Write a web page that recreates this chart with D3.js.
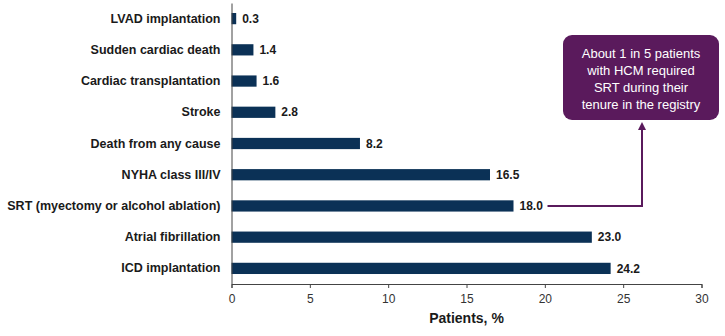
<!DOCTYPE html>
<html>
<head>
<meta charset="utf-8">
<script src="https://cdn.jsdelivr.net/npm/d3@7"></script>
<style>
  body { margin: 0; background: #fff; }
  svg { font-family: Arial, "Liberation Sans", sans-serif; }
</style>
</head>
<body>
<div id="chart"></div>
<script>
// data
const categories = [
  "LVAD implantation",
  "Sudden cardiac death",
  "Cardiac transplantation",
  "Stroke",
  "Death from any cause",
  "NYHA class III/IV",
  "SRT (myectomy or alcohol ablation)",
  "Atrial fibrillation",
  "ICD implantation",
];
const values = [0.3, 1.4, 1.6, 2.8, 8.2, 16.5, 18.0, 23.0, 24.2];
const xTicks = [0, 5, 10, 15, 20, 25, 30];
const noteLines = ["About 1 in 5 patients", "with HCM required", "SRT during their", "tenure in the registry"];

var w = 725;
var h = 336;
var barColor = "#0b3156";
var purple = "#5a1a5c";

const svg = d3.select("#chart").append("svg").attr("width", w).attr("height", h);

// scales
const x = d3.scaleLinear().domain([0, 30]).range([231.5, 701.5]);
const y = d3.scaleBand().domain(categories).range([3, 284]).paddingInner(0.64).paddingOuter(0.32);

// bars
svg.selectAll("rect.bar")
  .data(values)
  .enter()
  .append("rect")
  .attr("class", "bar")
  .attr("x", x(0))
  .attr("y", (d, i) => y(categories[i]))
  .attr("width", (d) => x(d) - x(0))
  .attr("height", y.bandwidth())
  .attr("fill", barColor);

// value labels
svg.selectAll("text.val")
  .data(values)
  .enter()
  .append("text")
  .attr("class", "val")
  .attr("x", (d) => x(d) + 6)
  .attr("y", (d, i) => y(categories[i]) + y.bandwidth() / 2)
  .attr("dy", "0.35em")
  .attr("font-size", 12)
  .attr("font-weight", "bold")
  .attr("fill", "#1a1a1a")
  .text((d) => d.toFixed(1));

// y axis
const yAxis = svg.append("g")
  .attr("transform", `translate(${x(0)},0)`)
  .call(d3.axisLeft(y).tickSize(0).tickPadding(11));
yAxis.select(".domain").attr("stroke", "#444");
yAxis.selectAll("text")
  .attr("font-size", 12.5)
  .attr("font-weight", "bold")
  .attr("fill", "#1a1a1a")
  .attr("font-family", "Arial, 'Liberation Sans', sans-serif");

// x axis
const xAxis = svg.append("g")
  .attr("transform", "translate(0,284)")
  .call(d3.axisBottom(x).tickValues(xTicks).tickSize(4).tickSizeOuter(4).tickPadding(6));
xAxis.select(".domain").attr("stroke", "#444");
xAxis.selectAll("line").attr("stroke", "#444");
xAxis.selectAll("text")
  .attr("font-size", 12)
  .attr("fill", "#333")
  .attr("font-family", "Arial, 'Liberation Sans', sans-serif");

// axis title
svg.append("text")
  .attr("x", x(15))
  .attr("y", 323)
  .attr("text-anchor", "middle")
  .attr("font-size", 14)
  .attr("font-weight", "bold")
  .attr("fill", "#1a1a1a")
  .text("Patients, %");

// annotation box
var boxX = 563, boxY = 35, boxW = 156, boxH = 85;
svg.append("rect")
  .attr("x", boxX)
  .attr("y", boxY)
  .attr("width", boxW)
  .attr("height", boxH)
  .attr("rx", 9)
  .attr("fill", purple);

svg.selectAll("text.note")
  .data(noteLines)
  .enter()
  .append("text")
  .attr("class", "note")
  .attr("x", boxX + boxW / 2)
  .attr("y", (d, i) => boxY + 18 + i * 17)
  .attr("dy", "0.35em")
  .attr("text-anchor", "middle")
  .attr("font-size", 13)
  .attr("fill", "#fff")
  .text((d) => d);

// arrow from SRT label to box
svg.append("defs").append("marker")
  .attr("id", "arrow")
  .attr("viewBox", "0 0 10 10")
  .attr("refX", 5)
  .attr("refY", 5)
  .attr("markerWidth", 4)
  .attr("markerHeight", 4)
  .attr("orient", "auto")
  .append("path")
  .attr("d", "M0,0 L10,5 L0,10 z")
  .attr("fill", purple);

var srtY = y(categories[6]) + y.bandwidth() / 2;
svg.append("path")
  .attr("d", `M${x(18.0) + 34},${srtY} H642 V${boxY + boxH + 6}`)
  .attr("fill", "none")
  .attr("stroke", purple)
  .attr("stroke-width", 2)
  .attr("marker-end", "url(#arrow)");
</script>
</body>
</html>
